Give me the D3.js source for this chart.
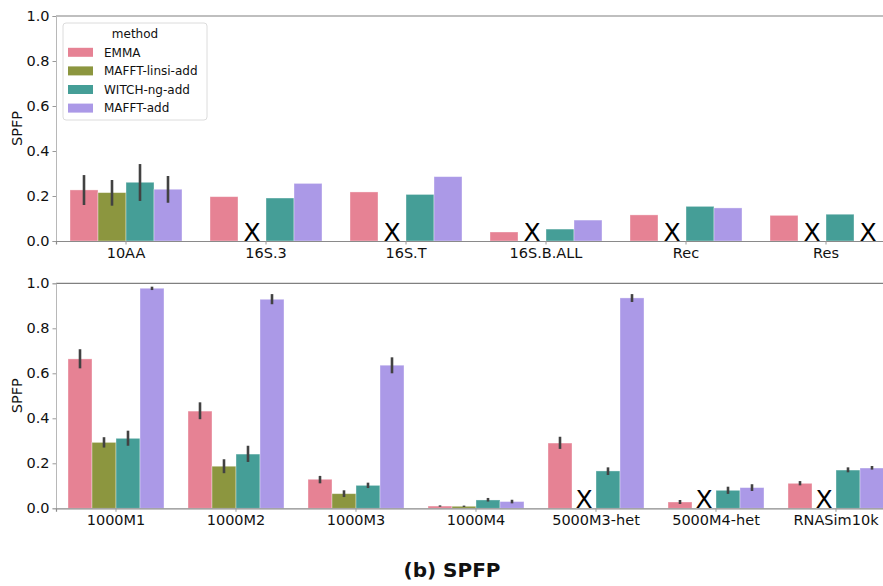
<!DOCTYPE html>
<html>
<head>
<meta charset="utf-8">
<script src="https://cdn.jsdelivr.net/npm/d3@7"></script>
<style>
  html, body { margin: 0; padding: 0; background: #fff; }
  svg { display: block; font-family: "DejaVu Sans", sans-serif; }
</style>
</head>
<body>
<svg id="chart" width="883" height="586"></svg>
<script>
// Methods and their colours
const methods = ["EMMA", "MAFFT-linsi-add", "WITCH-ng-add", "MAFFT-add"];
const colors = ["#e68294", "#8c963f", "#459e97", "#ab99e7"];

// Upper panel: categories, mean SPFP per method (null = method failed, shown as X)
const topCats = ["10AA", "16S.3", "16S.T", "16S.B.ALL", "Rec", "Res"];
const topEMMA  = [0.227, 0.197, 0.218, 0.040, 0.116, 0.114];
const topLinsi = [0.215, null,  null,  null,  null,  null];
const topWitch = [0.261, 0.191, 0.207, 0.053, 0.154, 0.119];
const topAdd   = [0.230, 0.256, 0.286, 0.093, 0.147, null];
// Confidence intervals [low, high] (null = single dataset, no interval)
const topErrEMMA  = [[0.160, 0.293], null, null, null, null, null];
const topErrLinsi = [[0.157, 0.271], null, null, null, null, null];
const topErrWitch = [[0.178, 0.342], null, null, null, null, null];
const topErrAdd   = [[0.170, 0.289], null, null, null, null, null];

// Lower panel
const botCats = ["1000M1", "1000M2", "1000M3", "1000M4", "5000M3-het", "5000M4-het", "RNASim10k"];
const botEMMA  = [0.664, 0.432, 0.129, 0.010, 0.290, 0.028, 0.111];
const botLinsi = [0.293, 0.187, 0.065, 0.009, null,  null,  null];
const botWitch = [0.311, 0.241, 0.102, 0.037, 0.166, 0.080, 0.170];
const botAdd   = [0.978, 0.929, 0.636, 0.030, 0.935, 0.092, 0.179];
const botErrEMMA  = [[0.622, 0.707], [0.396, 0.471], [0.111, 0.144], [0.007, 0.013], [0.264, 0.318], [0.019, 0.037], [0.102, 0.121]];
const botErrLinsi = [[0.270, 0.316], [0.156, 0.218], [0.050, 0.080], [0.006, 0.012], null, null, null];
const botErrWitch = [[0.278, 0.345], [0.206, 0.278], [0.090, 0.114], [0.030, 0.046], [0.148, 0.182], [0.064, 0.096], [0.160, 0.182]];
const botErrAdd   = [[0.970, 0.985], [0.907, 0.952], [0.600, 0.671], [0.022, 0.038], [0.917, 0.952], [0.077, 0.107], [0.172, 0.188]];

const yTicks = [0, 0.2, 0.4, 0.6, 0.8, 1.0];

const svg = d3.select("#chart");

function panel(cats, vals, errs, top, bottom, left, right) {
  const g = svg.append("g");
  const x = d3.scaleBand().domain(cats).range([left, right]).paddingInner(0.2).paddingOuter(0.1);
  const y = d3.scaleLinear().domain([0, 1]).range([bottom, top]);
  const xm = d3.scaleBand().domain(methods).range([0, x.bandwidth()]);

  // top spine
  g.append("line").attr("x1", left).attr("x2", right).attr("y1", top).attr("y2", top)
    .attr("stroke", "#808080").attr("stroke-width", 1.2);

  // y axis
  const ya = g.append("g").attr("transform", `translate(${left},0)`)
    .call(d3.axisLeft(y).tickValues(yTicks).tickFormat(d3.format(".1f")).tickSizeOuter(0).tickSize(3.5).tickPadding(3));
  ya.select(".domain").attr("stroke", "#b8b8b8").attr("stroke-width", 1);
  ya.selectAll(".tick line").attr("stroke", "#9a9a9a");
  ya.selectAll("text").attr("font-size", 14.5).attr("fill", "#111").attr("font-family", "DejaVu Sans");

  // bars
  methods.forEach((m, mi) => {
    cats.forEach((c, ci) => {
      const v = vals[mi][ci];
      const bx = x(c) + xm(m);
      const bw = xm.bandwidth();
      if (v === null) {
        g.append("text").attr("x", bx + bw / 2).attr("y", y(0))
          .attr("text-anchor", "middle").attr("font-size", 25)
          .attr("fill", "#000").text("X");
        return;
      }
      g.append("rect").attr("x", bx).attr("y", y(v))
        .attr("width", bw).attr("height", y(0) - y(v))
        .attr("fill", colors[mi])
        .attr("stroke", "#ffffff").attr("stroke-opacity", 0.45).attr("stroke-width", 0.8);
    });
  });
  // error bars
  methods.forEach((m, mi) => {
    cats.forEach((c, ci) => {
      const e = errs[mi][ci];
      if (!e || vals[mi][ci] === null) return;
      const cx = x(c) + xm(m) + xm.bandwidth() / 2;
      g.append("line").attr("x1", cx).attr("x2", cx)
        .attr("y1", y(e[0])).attr("y2", y(e[1]))
        .attr("stroke", "#424242").attr("stroke-width", 2.6);
    });
  });

  // x axis
  const xa = g.append("g").attr("transform", `translate(0,${bottom})`)
    .call(d3.axisBottom(x).tickSizeOuter(0).tickSize(3.5).tickPadding(3));
  xa.select(".domain").attr("stroke", "#8a8a8a").attr("stroke-width", 1.2);
  xa.selectAll(".tick line").attr("stroke", "#9a9a9a");
  xa.selectAll("text").attr("font-size", 14.5).attr("fill", "#111").attr("font-family", "DejaVu Sans");

  // y label
  g.append("text").attr("transform", `translate(22,${(top + bottom) / 2}) rotate(-90)`)
    .attr("text-anchor", "middle").attr("font-size", 14.5).attr("fill", "#111").text("SPFP");
  return g;
}

const topPanel = panel(topCats, [topEMMA, topLinsi, topWitch, topAdd],
  [topErrEMMA, topErrLinsi, topErrWitch, topErrAdd], 16, 241, 56, 896);
panel(botCats, [botEMMA, botLinsi, botWitch, botAdd],
  [botErrEMMA, botErrLinsi, botErrWitch, botErrAdd], 283.3, 508.3, 56, 896);

// legend
const lg = topPanel.append("g");
lg.append("rect").attr("x", 63).attr("y", 23).attr("width", 144).attr("height", 97)
  .attr("rx", 3).attr("fill", "#fff").attr("fill-opacity", 0.85)
  .attr("stroke", "#dcdcdc").attr("stroke-width", 1);
lg.append("text").attr("x", 135).attr("y", 37.5).attr("text-anchor", "middle")
  .attr("font-size", 12).attr("fill", "#111").text("method");
methods.forEach((m, i) => {
  const cy = 52.3 + i * 18.6;
  lg.append("rect").attr("x", 68).attr("y", cy - 4.5).attr("width", 25).attr("height", 9)
    .attr("fill", colors[i]);
  lg.append("text").attr("x", 104).attr("y", cy + 4.3)
    .attr("font-size", 12).attr("fill", "#111").text(m);
});

// caption
svg.append("text").attr("x", 452).attr("y", 577).attr("text-anchor", "middle")
  .attr("font-size", 20).attr("font-weight", "bold").attr("fill", "#111").text("(b) SPFP");
</script>
</body>
</html>
